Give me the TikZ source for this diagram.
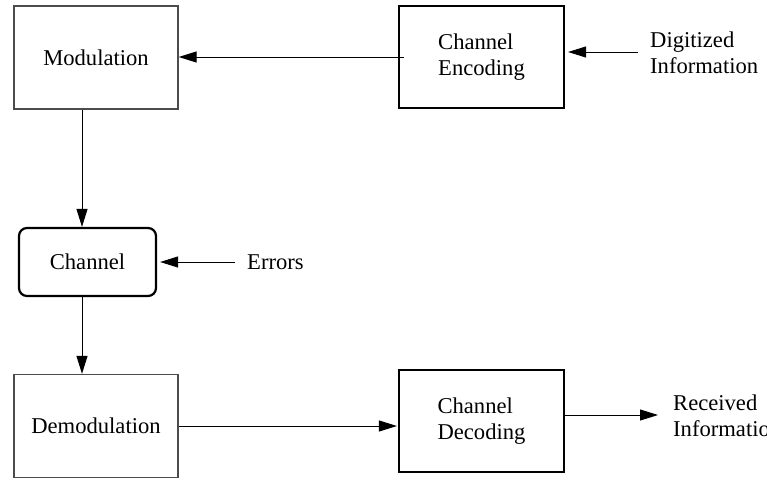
\documentclass[tikz,border=0pt]{standalone}
\usepackage{fontspec}
\setmainfont{Liberation Serif}
\usetikzlibrary{arrows.meta}
\begin{document}
\begin{tikzpicture}[x=1pt,y=-1pt,
  every node/.style={font=\fontsize{22.6}{26}\selectfont},
  thinbox/.style={draw=black!70, line width=1.3pt, minimum width=164pt, minimum height=103pt, inner sep=0pt},
  thickbox/.style={draw=black, line width=2.2pt, minimum width=165pt, minimum height=102pt, inner sep=0pt, align=left},
  chbox/.style={draw=black, line width=2.2pt, rounded corners=8pt, minimum width=137pt, minimum height=68pt, inner sep=0pt},
  lbl/.style={inner sep=0pt, align=left, anchor=west},
  arr/.style={line width=1pt, -{Triangle[length=18pt,width=11pt]}}
]
\useasboundingbox (0,0) rectangle (767,479);
\node[thinbox] (mod) at (96,57.5) {Modulation};
\node[thickbox] (enc) at (481.5,57) {Channel\\Encoding};
\node[chbox] (ch) at (87.5,262) {Channel};
\node[thinbox] (dem) at (96,426) {Demodulation};
\node[thickbox] (dec) at (481.5,421) {Channel\\Decoding};
\node[lbl] (dig) at (650,53) {Digitized\\Information};
\node[lbl] (err) at (247,262) {Errors};
\node[lbl] (rec) at (673,416) {Received\\Information};

\draw[arr] ([xshift=6pt]enc.west |- 0,57) -- (mod.east |- 0,57);
\draw[arr] ([xshift=-12pt]dig.west |- 0,52) -- ([xshift=3pt]enc.east |- 0,52);
\draw[arr] (82,0 |- mod.south) -- (82,0 |- ch.north);
\draw[arr] ([xshift=-12pt]err.west) -- ([xshift=3pt]ch.east);
\draw[arr] (82,0 |- ch.south) -- (82,0 |- dem.north);
\draw[arr] (dem.east) -- ([xshift=-1pt]dec.west |- dem.east);
\draw[arr] (dec.east |- 0,415) -- ([xshift=-15pt]rec.west |- 0,415);
\end{tikzpicture}
\end{document}
